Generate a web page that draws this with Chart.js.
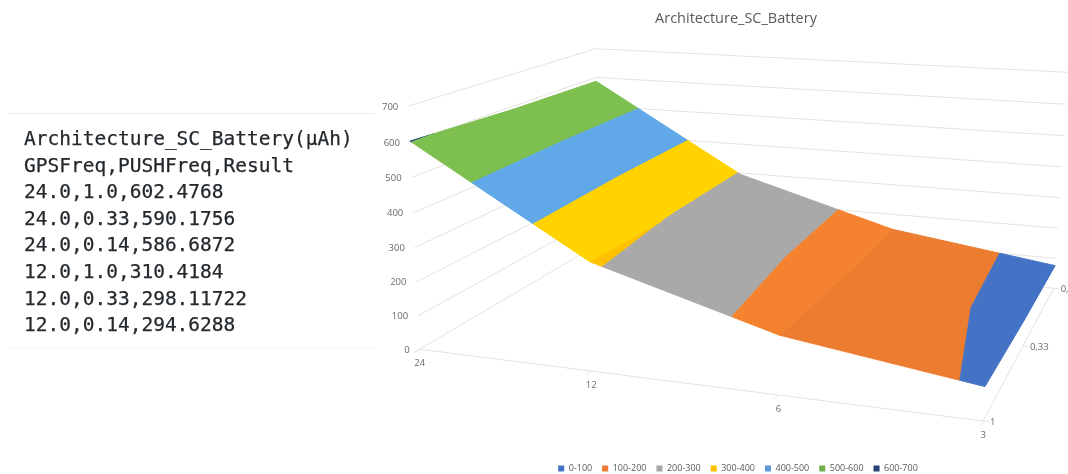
<!DOCTYPE html>
<html>
<head>
<meta charset="utf-8">
<title>Architecture_SC_Battery</title>
<script src="https://cdn.jsdelivr.net/npm/chart.js@4/dist/chart.umd.js"></script>
<style>
  html, body { margin: 0; background: #fff; }
  #wrap { position: relative; width: 1068px; height: 474px; overflow: hidden; }
  #chart { position: absolute; left: 0; top: 0; }
  #results {
    position: absolute; left: 24px; top: 126px; margin: 0; color: #23282d;
    font: 19.5px/26.6px "DejaVu Sans Mono", monospace;
    -webkit-text-stroke: 0.25px #23282d;
  }
  .rule { position: absolute; left: 8px; width: 367px; height: 1px; }
</style>
</head>
<body>
<div id="wrap">
  <canvas id="chart" width="1068" height="474"></canvas>
  <div class="rule" style="top:113px;background:#ececec"></div>
  <pre id="results"></pre>
  <div class="rule" style="top:348px;background:#f6f6f6"></div>
</div>
<script>
const gpsFreq = ['24', '12', '6', '3'];
const pushFreq = ['1', '0,33', '0,14'];
const axisTicks = [0, 100, 200, 300, 400, 500, 600, 700];

const resultPush1 = [602.4768, 310.4184, 164.4, 91.4];
const resultPush033 = [590.1756, 298.11722, 152.1, 79.1];
const resultPush014 = [586.6872, 294.6288, 148.6, 75.6];
const surface = [resultPush1, resultPush033, resultPush014];

const bandLabels = ['0-100', '100-200', '200-300', '300-400', '400-500', '500-600', '600-700'];
const bandColors = ['#4472c4', '#ed7d31', '#a5a5a5', '#ffc000', '#5b9bd5', '#70ad47', '#264478'];
// the surface gets lighter where it is steeper
const steepShades = ['#4472c4', '#f5822f', '#a9a9a9', '#ffd200', '#60a8e8', '#7dc050', '#264478'];
const midShades = ['#4472c4', '#f5822f', '#a9a9a9', '#ffc000', '#60a8e8', '#7dc050', '#264478'];
const flatShades = ['#4472c4', '#ec7c30', '#a5a5a5', '#ffc000', '#5b9bd5', '#70ad47', '#264478'];
const cellShades = [steepShades, midShades, flatShades];

const resultLines = [
  'Architecture_SC_Battery(µAh)',
  'GPSFreq,PUSHFreq,Result',
  '24.0,1.0,602.4768',
  '24.0,0.33,590.1756',
  '24.0,0.14,586.6872',
  '12.0,1.0,310.4184',
  '12.0,0.33,298.11722',
  '12.0,0.14,294.6288'
];
document.getElementById('results').textContent = resultLines.join('\n');

// perspective camera of the 3d box
const cam = [
  147.17676, 166.39695, -4.0317680, 419.62732,
  6.5662433, -21.163586, -35.366185, 349.17867,
  -0.041348954, 0.12859978, -0.0058953418
];

// gps index, push index, value/100 -> plot position
function project(u, v, w) {
  const d = cam[8] * u + cam[9] * v + cam[10] * w + 1;
  return {
    x: (cam[0] * u + cam[1] * v + cam[2] * w + cam[3]) / d,
    y: (cam[4] * u + cam[5] * v + cam[6] * w + cam[7]) / d
  };
}

// cut one surface cell at a value, keeping one side
function clipCell(poly, level, keepAbove) {
  const out = [];
  poly.forEach((a, i) => {
    const b = poly[(i + 1) % poly.length];
    const aIn = keepAbove ? a.z >= level : a.z <= level;
    const bIn = keepAbove ? b.z >= level : b.z <= level;
    if (aIn) out.push(a);
    if (aIn !== bIn) {
      const t = (level - a.z) / (b.z - a.z);
      out.push({ u: a.u + (b.u - a.u) * t, v: a.v + (b.v - a.v) * t, z: level });
    }
  });
  return out;
}

const gridLine = points => ({
  label: '', data: points, showLine: true, fill: false, borderColor: '#e3e3e3',
  borderWidth: 1, pointRadius: 0, clip: false
});

const datasets = [];
// legend entries, the surface pieces below carry no label
bandLabels.forEach((label, b) => datasets.push({
  label, data: [], showLine: true, pointRadius: 0, borderWidth: 0,
  backgroundColor: bandColors[b], borderColor: bandColors[b]
}));

for (let i = 0; i < gpsFreq.length - 1; i++) {
  for (let j = 0; j < pushFreq.length - 1; j++) {
    const cell = [
      { u: i, v: j, z: surface[j][i] },
      { u: i + 1, v: j, z: surface[j][i + 1] },
      { u: i + 1, v: j + 1, z: surface[j + 1][i + 1] },
      { u: i, v: j + 1, z: surface[j + 1][i] }
    ];
    bandLabels.forEach((label, b) => {
      const lo = b * 100;
      const part = clipCell(clipCell(cell, lo, true), lo + 100, false);
      if (part.length < 3) return;
      const pts = part.map(p => project(p.u, p.v, p.z / 100));
      pts.push(pts[0]);
      datasets.push({
        label: '', data: pts, showLine: true, fill: 'shape',
        backgroundColor: cellShades[i][b], borderColor: cellShades[i][b],
        borderWidth: 1, pointRadius: 0, clip: false
      });
    });
  }
}

// walls, floor edges and ticks sit behind the surface
axisTicks.forEach(t => {
  const w = t / 100;
  datasets.push(gridLine([project(0, 0, w), project(0, 2, w), project(3, 2, w)]));
});
datasets.push(gridLine([project(0, 0, 0), project(3, 0, 0), project(3, 2, 0)]));
gpsFreq.forEach((g, u) => datasets.push(gridLine([project(u, 0, 0), project(u, -0.05, 0)])));
pushFreq.forEach((p, v) => datasets.push(gridLine([project(3, v, 0), project(3.03, v, 0)])));

const axisLabels = {
  id: 'axisLabels',
  afterLayout(chart) {
    // legend sits lower and slightly right of where the layout leaves it
    chart.legend.top += 9;
    chart.legend.left += 2;
    chart.legend.right += 2;
  },
  afterDatasetsDraw(chart) {
    const { ctx, scales: { x, y } } = chart;
    const at = p => ({ x: x.getPixelForValue(p.x), y: y.getPixelForValue(p.y) });
    ctx.save();
    ctx.font = '9.5px "Open Sans"';
    ctx.fillStyle = '#6a6a6a';
    ctx.textBaseline = 'middle';
    ctx.textAlign = 'right';
    axisTicks.forEach(t => {
      const p = at(project(0, 0, t / 100));
      ctx.fillText(String(t), p.x - 10, p.y + 1);
    });
    ctx.textAlign = 'center';
    gpsFreq.forEach((g, u) => {
      const p = at(project(u, 0, 0));
      ctx.fillText(g, p.x, p.y + 14);
    });
    ctx.textAlign = 'left';
    pushFreq.forEach((s, v) => {
      const p = at(project(3, v, 0));
      ctx.fillText(s, p.x + 7, p.y + 1);
    });
    ctx.restore();
  }
};

new Chart(document.getElementById('chart'), {
  type: 'scatter',
  data: { datasets },
  plugins: [axisLabels],
  options: {
    responsive: false,
    animation: false,
    events: [],
    layout: { padding: { left: 404 } },
    scales: {
      x: { type: 'linear', display: false, min: 404, max: 1068 },
      y: { type: 'linear', display: false, reverse: true, min: 30, max: 445 }
    },
    plugins: {
      tooltip: { enabled: false },
      title: {
        display: true, text: 'Architecture_SC_Battery', color: '#595959',
        font: { family: '"Open Sans"', size: 14.5, weight: 'normal', lineHeight: 1 },
        padding: { top: 12, bottom: 3.5 }
      },
      legend: {
        display: true, position: 'bottom',
        labels: {
          boxWidth: 6, boxHeight: 6, padding: 10, color: '#595959',
          font: { family: '"Open Sans"', size: 9 },
          filter: item => item.text !== ''
        }
      }
    }
  }
});
</script>
</body>
</html>
